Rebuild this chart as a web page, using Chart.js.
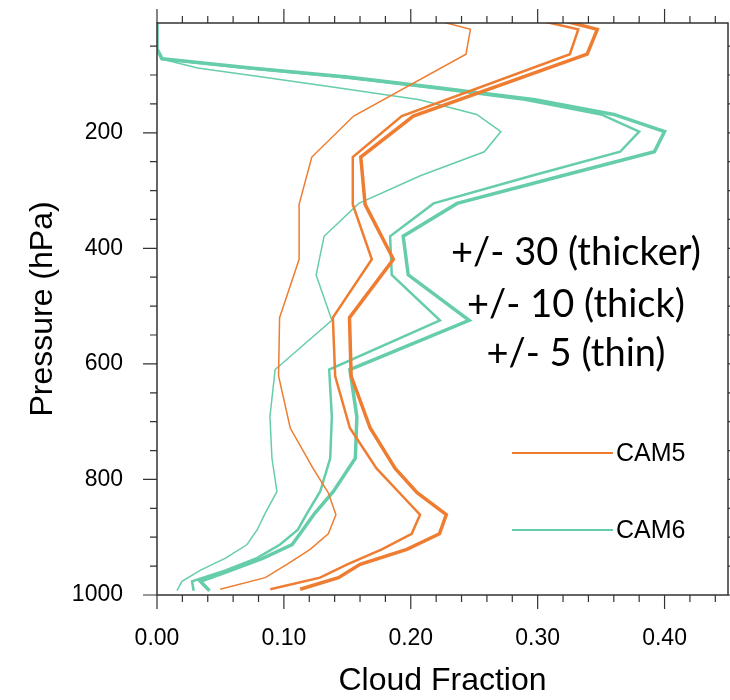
<!DOCTYPE html>
<html>
<head>
<meta charset="utf-8">
<script src="https://cdn.jsdelivr.net/npm/chart.js@4"></script>
<style>
  html, body { margin: 0; padding: 0; background: #fff; }
  #wrap { width: 730px; height: 700px; }
</style>
</head>
<body>
<div id="wrap"><canvas id="cloudChart" width="730" height="700"></canvas></div>
<script>
// --- data ---
// CAM5 profile levels (hPa)
const cam5Pressure = [7, 21, 64, 171, 242, 324, 419, 520, 621, 711, 781, 823, 861, 894, 921, 947, 970, 990];
const cam5Thin    = [0.223, 0.247, 0.2435, 0.155, 0.122, 0.112, 0.112, 0.0966, 0.0958, 0.105, 0.123, 0.135, 0.141, 0.135, 0.1207, 0.1024, 0.0853, 0.0498];
const cam5Thick   = [0.304, 0.332, 0.3254, 0.1929, 0.1543, 0.1543, 0.1693, 0.1386, 0.1404, 0.152, 0.173, 0.191, 0.2073, 0.2007, 0.1772, 0.150, 0.1285, 0.0893];
const cam5Thicker = [0.322, 0.347, 0.339, 0.202, 0.1606, 0.164, 0.1863, 0.1517, 0.153, 0.168, 0.1877, 0.205, 0.228, 0.2226, 0.1969, 0.1601, 0.143, 0.1128];

// CAM6 profile levels (hPa)
const cam6Pressure = [7.59, 14.36, 24.61, 38.27, 54.6, 72.01, 87.82, 103.32, 121.55, 142.99, 168.23, 197.91, 232.83, 273.91, 322.24, 379.1, 445.99, 524.69, 609.78, 691.39, 763.4, 820.86, 859.53, 887.02, 912.64, 936.2, 957.49, 976.33, 992.56];
const cam6Thin    = [0, 0, 0, 0, 0, 0.003, 0.032, 0.083, 0.141, 0.207, 0.252, 0.271, 0.258, 0.208, 0.159, 0.1317, 0.1254, 0.1378, 0.0931, 0.089, 0.0906, 0.0945, 0.085, 0.079, 0.071, 0.054, 0.034, 0.0197, 0.0157];
const cam6Thick   = [0, 0, 0, 0, 0, 0.004, 0.07, 0.145, 0.215, 0.29, 0.35, 0.38, 0.365, 0.296, 0.218, 0.1837, 0.185, 0.223, 0.1357, 0.1378, 0.1365, 0.1286, 0.118, 0.111, 0.097, 0.0787, 0.054, 0.0276, 0.0289];
const cam6Thicker = [0, 0, 0, 0, 0, 0.004, 0.074, 0.150, 0.220, 0.298, 0.36, 0.40, 0.392, 0.320, 0.2365, 0.194, 0.198, 0.246, 0.152, 0.1575, 0.1563, 0.139, 0.124, 0.115, 0.1065, 0.0837, 0.058, 0.0341, 0.0414];

const xTicks = [0, 0.1, 0.2, 0.3, 0.4];
const yTicks = [200, 400, 600, 800, 1000];
const noteLines = ['+/- 30 (thicker)', '+/- 10 (thick)', '+/- 5 (thin)'];
const legendNames = ['CAM5', 'CAM6'];

const ORANGE = '#EE7D31';
const GREEN = '#66CDAA';
const AXIS = '#333333';

function profile(values, pressure) {
    return values.map((v, i) => ({ x: v, y: pressure[i] }));
}

function lineSet(label, values, pressure, color, width) {
    return {
        label: label,
        data: profile(values, pressure),
        borderColor: color,
        borderWidth: width,
        pointRadius: 0,
        showLine: true,
        tension: 0,
        fill: false,
        clip: 0
    };
}

// ticks, box, legend and notes
const decorations = {
    id: 'decorations',
    afterDraw(chart) {
        const ctx = chart.ctx;
        const area = chart.chartArea;
        const xs = chart.scales.x, ys = chart.scales.y;
        ctx.save();
        ctx.strokeStyle = AXIS;
        ctx.lineWidth = 1.5;
        ctx.strokeRect(area.left, area.top, area.right - area.left, area.bottom - area.top);

        ctx.lineWidth = 1.2;
        ctx.beginPath();
        for (let i = 0; i <= 22; i++) {
            const v = i * 0.02;
            const px = xs.getPixelForValue(v);
            const len = (i % 5 === 0) ? 14 : 7;
            ctx.moveTo(px, area.bottom); ctx.lineTo(px, area.bottom + len);
            ctx.moveTo(px, area.top); ctx.lineTo(px, area.top - len);
        }
        for (let p = 50; p <= 1000; p += 50) {
            const py = ys.getPixelForValue(p);
            const len = (p % 200 === 0) ? 14 : 7;
            ctx.moveTo(area.left, py); ctx.lineTo(area.left - len, py);
            ctx.moveTo(area.right, py); ctx.lineTo(area.right + len, py);
        }
        ctx.stroke();

        // legend
        const legendColors = [ORANGE, GREEN];
        const legendY = [453, 530];
        ctx.font = '25px "Liberation Sans", Arial, sans-serif';
        ctx.textBaseline = 'middle';
        ctx.textAlign = 'left';
        legendNames.forEach((name, i) => {
            ctx.strokeStyle = legendColors[i];
            ctx.lineWidth = 2;
            ctx.beginPath();
            ctx.moveTo(512, legendY[i]);
            ctx.lineTo(613, legendY[i]);
            ctx.stroke();
            ctx.fillStyle = '#000';
            ctx.fillText(name, 616, legendY[i] + 1);
        });

        // notes about line widths
        ctx.font = '38px Lato, "Open Sans", sans-serif';
        ctx.textAlign = 'center';
        const noteY = [253, 305, 354];
        noteLines.forEach((t, i) => ctx.fillText(t, 576, noteY[i]));
        ctx.restore();
    }
};

new Chart(document.getElementById('cloudChart'), {
    type: 'scatter',
    data: {
        datasets: [
            lineSet('CAM5 thin', cam5Thin, cam5Pressure, ORANGE, 1.5),
            lineSet('CAM5 thick', cam5Thick, cam5Pressure, ORANGE, 2.5),
            lineSet('CAM5 thicker', cam5Thicker, cam5Pressure, ORANGE, 3.5),
            lineSet('CAM6 thin', cam6Thin, cam6Pressure, GREEN, 1.5),
            lineSet('CAM6 thick', cam6Thick, cam6Pressure, GREEN, 2.5),
            lineSet('CAM6 thicker', cam6Thicker, cam6Pressure, GREEN, 3.5)
        ]
    },
    options: {
        responsive: false,
        animation: false,
        layout: { padding: { left: 0, right: 2, top: 23, bottom: 0 } },
        plugins: { legend: { display: false }, tooltip: { enabled: false } },
        scales: {
            x: {
                type: 'linear',
                min: 0,
                max: 0.45,
                afterFit: (s) => { s.height = 105; },
                afterBuildTicks: (s) => { s.ticks = xTicks.map(v => ({ value: v })); },
                grid: { display: false, drawTicks: true, tickLength: 26 },
                border: { display: false },
                ticks: {
                    color: '#000',
                    padding: 4,
                    maxRotation: 0,
                    font: { family: '"Liberation Sans", Arial, sans-serif', size: 23 },
                    callback: (v) => Number(v).toFixed(2)
                },
                title: {
                    display: true,
                    text: 'Cloud Fraction',
                    color: '#000',
                    font: { family: '"Liberation Sans", Arial, sans-serif', size: 32 },
                    padding: { top: 0, bottom: 0 }
                }
            },
            y: {
                type: 'linear',
                reverse: true,
                min: 10,
                max: 1000,
                afterFit: (s) => { s.width = 157; },
                afterBuildTicks: (s) => { s.ticks = yTicks.map(v => ({ value: v })); },
                grid: { display: false, drawTicks: true, tickLength: 30 },
                border: { display: false },
                ticks: {
                    color: '#000',
                    padding: 4,
                    font: { family: '"Liberation Sans", Arial, sans-serif', size: 23 },
                    callback: (v) => String(v)
                },
                title: {
                    display: true,
                    text: 'Pressure (hPa)',
                    color: '#000',
                    font: { family: '"Liberation Sans", Arial, sans-serif', size: 32 },
                    padding: { top: 24, bottom: 0 }
                }
            }
        }
    },
    plugins: [decorations]
});
</script>
</body>
</html>
